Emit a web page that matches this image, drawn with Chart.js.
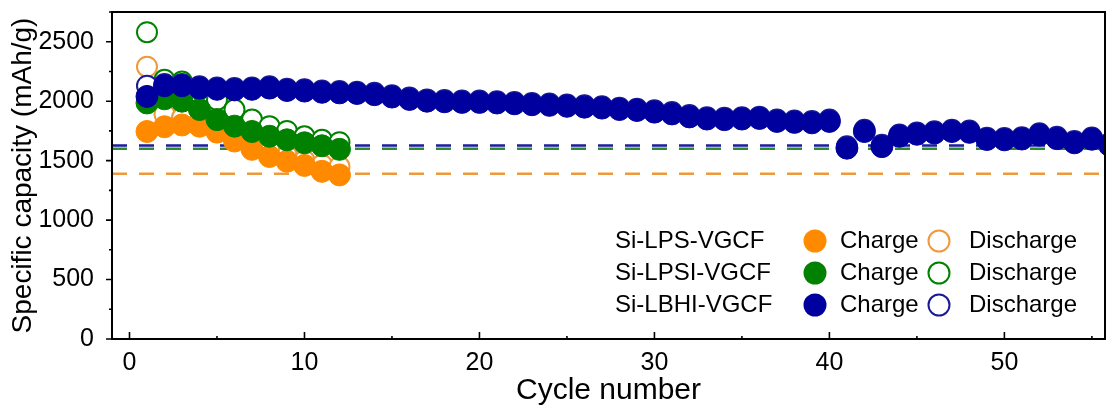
<!DOCTYPE html>
<html>
<head>
<meta charset="utf-8">
<script src="https://cdn.jsdelivr.net/npm/chart.js@4.4.0/dist/chart.umd.min.js"></script>
<style>
  html, body { margin: 0; padding: 0; background: #fff; }
  #wrap { width: 1110px; height: 410px; }
</style>
</head>
<body>
<div id="wrap"><canvas id="capacityChart" width="1110" height="410"></canvas></div>
<script>
// cycle numbers
const cyclesShort = [1, 2, 3, 4, 5, 6, 7, 8, 9, 10, 11, 12];
const cyclesLong = [1, 2, 3, 4, 5, 6, 7, 8, 9, 10, 11, 12, 13, 14, 15, 16, 17, 18, 19, 20,
  21, 22, 23, 24, 25, 26, 27, 28, 29, 30, 31, 32, 33, 34, 35, 36, 37, 38, 39, 40,
  41, 42, 43, 44, 45, 46, 47, 48, 49, 50, 51, 52, 53, 54, 55, 56];

// Si-LPS-VGCF (mAh/g)
const lpsCharge = [1745, 1785, 1800, 1790, 1740, 1665, 1595, 1535, 1495, 1460, 1410, 1380];
const lpsDischarge = [2290, 1890, 1860, 1830, 1780, 1710, 1640, 1585, 1540, 1500, 1465, 1450];

// Si-LPSI-VGCF (mAh/g)
const lpsiCharge = [1985, 2020, 2000, 1930, 1845, 1790, 1745, 1705, 1675, 1650, 1625, 1595];
const lpsiDischarge = [2580, 2180, 2165, 2100, 2010, 1930, 1845, 1790, 1750, 1705, 1675, 1655];

// Si-LBHI-VGCF (mAh/g)
const lbhiCharge = [2040, 2130, 2130, 2110, 2100, 2095, 2100, 2110, 2090, 2085,
  2075, 2070, 2065, 2055, 2035, 2015, 2000, 1995, 1990, 1990,
  1985, 1978, 1970, 1965, 1957, 1950, 1942, 1930, 1922, 1908,
  1893, 1868, 1850, 1845, 1850, 1855, 1830, 1822, 1818, 1830,
  1605, 1745, 1618, 1705, 1722, 1732, 1745, 1738, 1678, 1675,
  1682, 1715, 1685, 1650, 1680, 1630];
const lbhiDischarge = [2130, 2145, 2145, 2125, 2115, 2110, 2115, 2125, 2105, 2100,
  2090, 2085, 2080, 2070, 2050, 2030, 2015, 2010, 2005, 2005,
  2000, 1993, 1985, 1980, 1972, 1965, 1957, 1945, 1937, 1923,
  1908, 1883, 1865, 1860, 1865, 1870, 1845, 1837, 1833, 1845,
  1620, 1760, 1633, 1720, 1737, 1747, 1760, 1753, 1693, 1690,
  1697, 1730, 1700, 1665, 1695, 1645];

// theoretical capacity levels (dashed lines): LPS, LPSI, LBHI
const refLevels = [1390, 1600, 1628];

// labelled ticks
const yTickValues = [0, 500, 1000, 1500, 2000, 2500];
const xTickValues = [0, 10, 20, 30, 40, 50];

const legendNames = ['Si-LPS-VGCF', 'Si-LPSI-VGCF', 'Si-LBHI-VGCF'];

const ORANGE = '#FF8A00';
const ORANGE_LINE = '#EE9A3C';
const GREEN = '#008200';
const BLUE = '#00009E';
const seriesColors = [ORANGE, GREEN, BLUE];
const outlineColors = [ORANGE_LINE, GREEN, '#1A1A96'];
const dashColors = [ORANGE_LINE, '#2C8C2C', '#1C1CA0'];

const FONT = "'Liberation Sans', Arial, Helvetica, sans-serif";
const X_MIN = -1, X_MAX = 55.75, Y_MAX = 2750;

const toPoints = (xs, ys) => xs.map((c, i) => ({ x: c, y: ys[i] }));

const chargeSet = (label, xs, ys, color, order) => ({
  label, data: toPoints(xs, ys), order,
  pointRadius: 11, pointBackgroundColor: color, pointBorderColor: color, pointBorderWidth: 1,
  showLine: false
});

const dischargeSet = (label, xs, ys, color, order) => ({
  label, data: toPoints(xs, ys), order,
  pointRadius: 10, pointBackgroundColor: '#fff', pointBorderColor: color, pointBorderWidth: 2,
  showLine: false
});

const refSet = (value, color) => ({
  label: 'ref', data: [{ x: X_MIN, y: value }, { x: X_MAX, y: value }], order: 10,
  showLine: true, pointRadius: 0, borderColor: color, borderWidth: 2.5, borderDash: [15, 12]
});

// frame box plus major/minor tick marks (y ticks point out, x ticks point in)
const frameTicks = {
  id: 'frameTicks',
  afterDraw(chart) {
    const { ctx, chartArea: a, scales: { x, y } } = chart;
    ctx.save();
    ctx.strokeStyle = '#000';
    ctx.lineWidth = 2;
    ctx.strokeRect(a.left, a.top, a.right - a.left, a.bottom - a.top);
    ctx.lineWidth = 1.6;
    ctx.beginPath();
    for (let v = 0; v <= Y_MAX; v += 250) {
      const py = y.getPixelForValue(v);
      const len = v % 500 === 0 ? 6 : 3;
      ctx.moveTo(a.left, py);
      ctx.lineTo(a.left - len, py);
    }
    for (let c = 0; c <= 55; c += 5) {
      const px = x.getPixelForValue(c);
      const len = c % 10 === 0 ? 7 : 3;
      ctx.moveTo(px, a.bottom);
      ctx.lineTo(px, a.bottom - len);
    }
    ctx.stroke();
    ctx.restore();
  }
};

// three-row legend: name, filled circle "Charge", open circle "Discharge"
const rowLegend = {
  id: 'rowLegend',
  afterDraw(chart) {
    const { ctx } = chart;
    ctx.save();
    ctx.font = `24px ${FONT}`;
    ctx.textBaseline = 'middle';
    legendNames.forEach((name, i) => {
      const cy = 241 + i * 32;
      ctx.fillStyle = '#000';
      ctx.fillText(name, 615, cy);
      ctx.beginPath();
      ctx.arc(815, cy, 11.5, 0, Math.PI * 2);
      ctx.fillStyle = seriesColors[i];
      ctx.fill();
      ctx.fillStyle = '#000';
      ctx.fillText('Charge', 840, cy);
      ctx.beginPath();
      ctx.arc(939, cy, 10.5, 0, Math.PI * 2);
      ctx.lineWidth = 2;
      ctx.strokeStyle = outlineColors[i];
      ctx.stroke();
      ctx.fillText('Discharge', 969, cy);
    });
    ctx.restore();
  }
};

new Chart(document.getElementById('capacityChart'), {
  type: 'scatter',
  data: {
    datasets: [
      chargeSet('Si-LBHI-VGCF Charge', cyclesLong, lbhiCharge, BLUE, 1),
      dischargeSet('Si-LBHI-VGCF Discharge', cyclesLong, lbhiDischarge, outlineColors[2], 2),
      chargeSet('Si-LPSI-VGCF Charge', cyclesShort, lpsiCharge, GREEN, 3),
      dischargeSet('Si-LPSI-VGCF Discharge', cyclesShort, lpsiDischarge, outlineColors[1], 4),
      chargeSet('Si-LPS-VGCF Charge', cyclesShort, lpsCharge, ORANGE, 5),
      dischargeSet('Si-LPS-VGCF Discharge', cyclesShort, lpsDischarge, outlineColors[0], 6),
      refSet(refLevels[0], dashColors[0]),
      refSet(refLevels[1], dashColors[1]),
      refSet(refLevels[2], dashColors[2])
    ]
  },
  options: {
    responsive: false,
    animation: false,
    events: [],
    layout: { autoPadding: false, padding: { left: 0, right: 5, top: 12, bottom: 0 } },
    plugins: { legend: { display: false }, tooltip: { enabled: false } },
    scales: {
      x: {
        type: 'linear', min: X_MIN, max: X_MAX,
        grid: { display: false }, border: { display: false },
        afterBuildTicks: (scale) => { scale.ticks = xTickValues.map(v => ({ value: v })); },
        ticks: { padding: 1, color: '#000', font: { family: FONT, size: 25 },
                 callback: (v) => String(v) },
        title: { display: true, text: 'Cycle number', color: '#000',
                 font: { family: FONT, size: 30 }, padding: { top: 2, bottom: 1 } },
        afterFit: (scale) => { scale.height = 71; scale.paddingLeft = 0; scale.paddingRight = 0; }
      },
      y: {
        min: 0, max: Y_MAX,
        grid: { display: false }, border: { display: false },
        afterBuildTicks: (scale) => { scale.ticks = yTickValues.map(v => ({ value: v })); },
        ticks: { padding: 10, color: '#000', font: { family: FONT, size: 25 },
                 callback: (v) => String(v) },
        title: { display: true, text: 'Specific capacity (mAh/g)', color: '#000',
                 font: { family: FONT, size: 28 }, padding: { top: 6, bottom: 2 } },
        afterFit: (scale) => { scale.width = 112; scale.paddingTop = 0; scale.paddingBottom = 0; }
      }
    }
  },
  plugins: [frameTicks, rowLegend]
});
</script>
</body>
</html>
